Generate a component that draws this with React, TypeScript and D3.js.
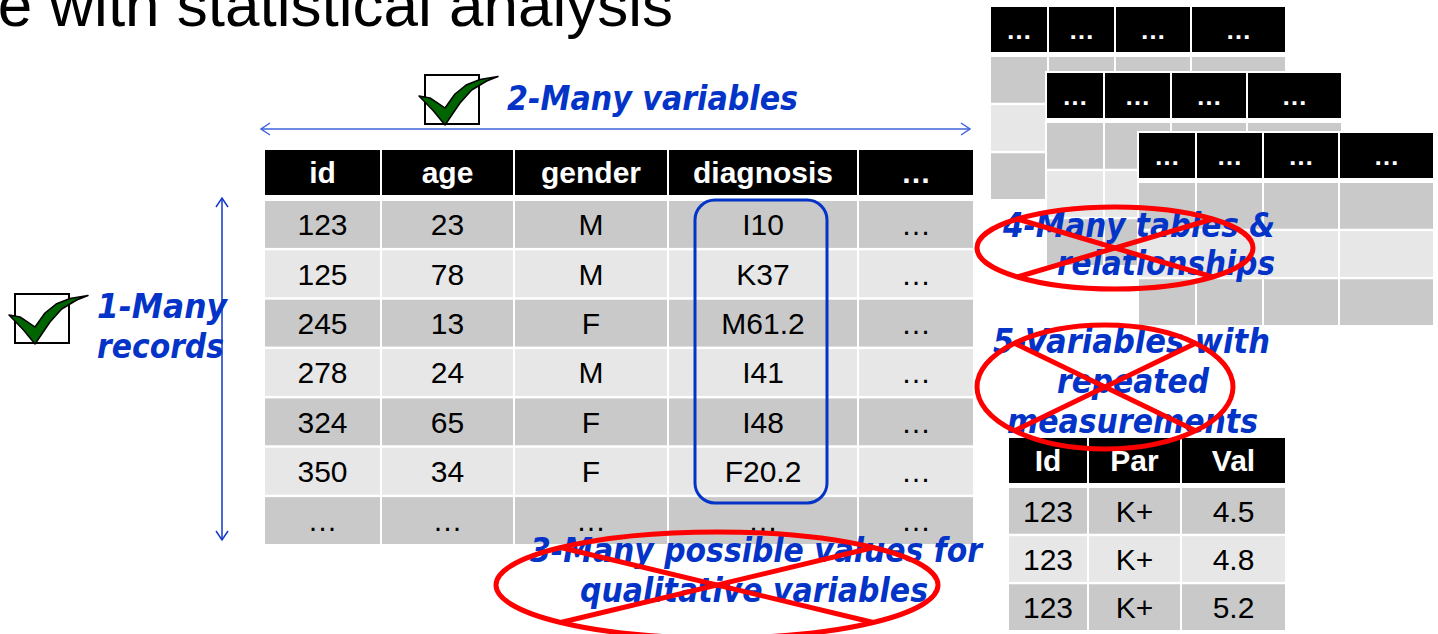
import * as d3 from "d3";

// ---- data ----
const title = "e with statistical analysis";

const mainHeaders = ["id", "age", "gender", "diagnosis", "…"];
const ids = ["123", "125", "245", "278", "324", "350", "…"];
const ages = ["23", "78", "13", "24", "65", "34", "…"];
const genders = ["M", "M", "F", "M", "F", "F", "…"];
const diagnoses = ["I10", "K37", "M61.2", "I41", "I48", "F20.2", "…"];
const others = ["…", "…", "…", "…", "…", "…", "…"];

const longHeaders = ["Id", "Par", "Val"];
const longIds = ["123", "123", "123"];
const longPars = ["K+", "K+", "K+"];
const longVals = ["4.5", "4.8", "5.2"];

const stackHeaders = ["…", "…", "…", "…"];

const okLabels = ["1-Many", "records", "2-Many variables"];
const noLabels = [
  "3-Many possible values for",
  "qualitative variables",
  "4-Many tables &",
  "relationships",
  "5-Variables with",
  "repeated",
  "measurements",
];

// ---- layout ----
const W = 1438;
const H = 634;
const BLUE = "#0433c8";
const DARK = "#c9c9c9";
const LIGHT = "#e7e7e7";
const SANS = "'Liberation Sans', Arial, sans-serif";
const VERDANA = "'DejaVu Sans', Verdana, sans-serif";

const okLayout = [
  { x: 97, y: 318, w: 130 },
  { x: 97, y: 358, w: 127 },
  { x: 507, y: 110, w: 291 },
];
const noLayout = [
  { x: 530, y: 562, w: 452 },
  { x: 580, y: 602, w: 348 },
  { x: 1003, y: 237, w: 272 },
  { x: 1057, y: 275, w: 218 },
  { x: 993, y: 353, w: 277 },
  { x: 1057, y: 393, w: 152 },
  { x: 1007, y: 433, w: 251 },
];
const crossed = [
  { cx: 717, cy: 585, rx: 221, ry: 53 },
  { cx: 1115, cy: 248, rx: 138, ry: 41 },
  { cx: 1105, cy: 387, rx: 128, ry: 62 },
];
const stacks = [
  { x: 991, y: 7 },
  { x: 1047, y: 73 },
  { x: 1139, y: 133 },
];

type TableProps = {
  x: number;
  y: number;
  widths: number[];
  headerH: number;
  bodyTop: number;
  bodyBottom: number;
  headers: string[];
  columns: string[][];
  nRows: number;
  fontSize: number;
  backdrop?: boolean;
};

function Table({ x, y, widths, headerH, bodyTop, bodyBottom, headers, columns, nRows, fontSize, backdrop }: TableProps) {
  const gap = 2;
  const lefts = [0, ...Array.from(d3.cumsum(widths.map((w) => w + gap)))].slice(0, widths.length).map((v) => x + v);
  const rowY = d3.scaleBand<number>().domain(d3.range(nRows)).range([bodyTop, bodyBottom]).paddingInner(0.05);
  const total = d3.sum(widths) + gap * (widths.length - 1);
  return (
    <g>
      {backdrop && <rect x={x - 2} y={y - 2} width={total + 4} height={bodyBottom - y + 4} fill="#fff" />}
      {widths.map((w, c) => (
        <g key={c}>
          <rect x={lefts[c]} y={y} width={w} height={headerH} fill="#000" />
          <text
            x={lefts[c] + w / 2}
            y={y + headerH / 2 + fontSize * 0.36}
            textAnchor="middle"
            fill="#fff"
            fontWeight="bold"
            fontFamily={SANS}
            fontSize={fontSize}
          >
            {headers[c]}
          </text>
          {d3.range(nRows).map((r) => (
            <g key={r}>
              <rect x={lefts[c]} y={rowY(r)} width={w} height={rowY.bandwidth()} fill={r % 2 === 0 ? DARK : LIGHT} />
              {columns[c] && (
                <text
                  x={lefts[c] + w / 2}
                  y={(rowY(r) as number) + rowY.bandwidth() / 2 + fontSize * 0.36}
                  textAnchor="middle"
                  fill="#000"
                  fontFamily={SANS}
                  fontSize={fontSize}
                >
                  {columns[c][r]}
                </text>
              )}
            </g>
          ))}
        </g>
      ))}
    </g>
  );
}

const checkPts: [number, number][] = [
  [-6, 21], [5, 23], [11.7, 27.3], [20, 33], [30, 19], [41.7, 9.7], [55, 4.5], [73, 1.5],
  [61.7, 6], [46.7, 15], [35, 28], [20, 50], [8.3, 35.7],
];

function CheckBox({ x, y }: { x: number; y: number }) {
  const line = d3.line().curve(d3.curveLinearClosed);
  return (
    <g transform={`translate(${x},${y})`}>
      <rect x={0} y={0} width={54} height={49} fill="#fff" stroke="#000" strokeWidth={2} />
      <path d={line(checkPts) ?? ""} fill="#006400" stroke="#000" strokeWidth={1.5} strokeLinejoin="round" />
    </g>
  );
}

function BlueText({ text, x, y, w }: { text: string; x: number; y: number; w: number }) {
  return (
    <text
      x={x}
      y={y}
      fill={BLUE}
      fontFamily={VERDANA}
      fontWeight="bold"
      fontStyle="italic"
      fontSize={33}
      textLength={w}
      lengthAdjust="spacingAndGlyphs"
    >
      {text}
    </text>
  );
}

export default function App() {
  const a = 0.785;
  return (
    <svg width={W} height={H} style={{ position: "absolute", left: 0, top: 0, background: "#fff" }}>
      <text x={673} y={26} textAnchor="end" fontFamily={SANS} fontSize={62} fill="#000">
        {title}
      </text>

      {/* stacked related tables */}
      {stacks.map((s, i) => (
        <Table
          key={i}
          x={s.x}
          y={s.y}
          widths={[56, 65, 74, 93]}
          headerH={45}
          bodyTop={s.y + 50}
          bodyBottom={s.y + 192}
          headers={stackHeaders}
          columns={[]}
          nRows={3}
          fontSize={26}
          backdrop
        />
      ))}

      {/* main data table */}
      <Table
        x={265}
        y={150}
        widths={[115, 131, 152, 188, 114]}
        headerH={45}
        bodyTop={201}
        bodyBottom={544}
        headers={mainHeaders}
        columns={[ids, ages, genders, diagnoses, others]}
        nRows={ids.length}
        fontSize={30}
      />
      <rect x={695} y={200} width={132} height={303} rx={20} fill="none" stroke={BLUE} strokeWidth={3} />

      {/* long-format table */}
      <Table
        x={1009}
        y={438}
        widths={[78, 91, 103]}
        headerH={45}
        bodyTop={488}
        bodyBottom={630}
        headers={longHeaders}
        columns={[longIds, longPars, longVals]}
        nRows={longIds.length}
        fontSize={30}
      />

      {/* arrows */}
      <g fill="none" stroke="#3f63d8" strokeWidth={1.5}>
        <line x1={261} y1={129} x2={970} y2={129} />
        <polyline points="270,123 261,129 270,135" />
        <polyline points="961,123 970,129 961,135" />
      </g>
      <g fill="none" stroke="#1237cc" strokeWidth={1.5}>
        <line x1={222} y1={198} x2={222} y2={540} />
        <polyline points="216,207 222,198 228,207" />
        <polyline points="216,531 222,540 228,531" />
      </g>

      <CheckBox x={15} y={294} />
      <CheckBox x={425} y={75} />
      {okLabels.map((t, i) => (
        <BlueText key={t} text={t} {...okLayout[i]} />
      ))}
      {noLabels.map((t, i) => (
        <BlueText key={t} text={t} {...noLayout[i]} />
      ))}

      {/* red crossed ellipses */}
      <g fill="none" stroke="#ff0000" strokeWidth={5}>
        {crossed.map((e, i) => {
          const dx = e.rx * Math.cos(a);
          const dy = e.ry * Math.sin(a);
          return (
            <g key={i}>
              <ellipse cx={e.cx} cy={e.cy} rx={e.rx} ry={e.ry} />
              <line x1={e.cx - dx} y1={e.cy - dy} x2={e.cx + dx} y2={e.cy + dy} />
              <line x1={e.cx - dx} y1={e.cy + dy} x2={e.cx + dx} y2={e.cy - dy} />
            </g>
          );
        })}
      </g>
    </svg>
  );
}
